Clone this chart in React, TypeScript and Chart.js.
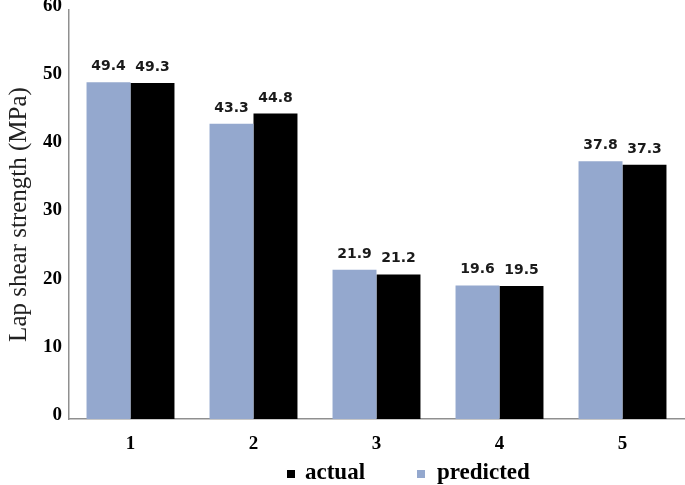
import React, { useEffect, useRef } from 'react';
import { Chart, registerables } from 'chart.js';

Chart.register(...registerables);

const categories = ['1', '2', '3', '4', '5'];
const predicted = [49.4, 43.3, 21.9, 19.6, 37.8];
const actual = [49.3, 44.8, 21.2, 19.5, 37.3];
const yTicks = [0, 10, 20, 30, 40, 50, 60];
const legendLabels = ['actual', 'predicted'];
const yTitle = 'Lap shear strength (MPa)';

const PRED_COLOR = '#94A8CE';
const ACT_COLOR = '#000000';

const valueLabels = {
  id: 'valueLabels',
  afterDatasetsDraw(chart: any) {
    const ctx = chart.ctx;
    ctx.save();
    ctx.font = 'bold 14px "DejaVu Sans"';
    ctx.fillStyle = '#1a1a1a';
    ctx.textAlign = 'center';
    ctx.textBaseline = 'alphabetic';
    chart.data.datasets.forEach((ds: any, i: number) => {
      const meta = chart.getDatasetMeta(i);
      meta.data.forEach((el: any, j: number) => {
        ctx.fillText(Number(ds.data[j]).toFixed(1), el.x, el.y - 12);
      });
    });
    ctx.restore();
  },
};

const bottomLegend = {
  id: 'bottomLegend',
  afterDraw(chart: any) {
    const ctx = chart.ctx;
    ctx.save();
    ctx.font = 'bold 23px "Liberation Serif"';
    ctx.textBaseline = 'alphabetic';
    ctx.textAlign = 'left';
    const items = [
      { label: legendLabels[0], color: ACT_COLOR, boxX: 287, textX: 305 },
      { label: legendLabels[1], color: PRED_COLOR, boxX: 417, textX: 437 },
    ];
    const baseline = 479;
    const box = 8;
    items.forEach((it) => {
      ctx.fillStyle = it.color;
      ctx.fillRect(it.boxX, baseline - 9, box, box);
      ctx.fillStyle = '#000';
      ctx.fillText(it.label, it.textX, baseline);
    });
    ctx.restore();
  },
};

export default function App() {
  const ref = useRef<HTMLCanvasElement>(null);
  useEffect(() => {
    document.body.style.margin = '0';
    const chart = new Chart(ref.current as HTMLCanvasElement, {
      type: 'bar',
      data: {
        labels: categories,
        datasets: [
          { label: legendLabels[1], data: predicted, backgroundColor: PRED_COLOR, borderWidth: 0 },
          { label: legendLabels[0], data: actual, backgroundColor: ACT_COLOR, borderWidth: 0 },
        ],
      },
      options: {
        responsive: false,
        animation: false,
        devicePixelRatio: 1,
        layout: { padding: { top: 10, right: 1, bottom: 0, left: 0 } },
        datasets: { bar: { categoryPercentage: 0.715, barPercentage: 1.0 } },
        plugins: {
          legend: { display: false },
          tooltip: { enabled: false },
        },
        scales: {
          x: {
            grid: { display: false, drawTicks: false },
            border: { display: true, color: '#8f8f8f', width: 1.5 },
            ticks: {
              color: '#000',
              padding: 14,
              font: { family: '"Liberation Serif"', size: 19, weight: 'bold' },
            },
            afterFit: (s: any) => {
              s.height = 66;
              s.paddingLeft = 0;
              s.paddingRight = 0;
            },
          },
          y: {
            min: 0,
            max: 60,
            grid: { display: false, drawTicks: false },
            border: { display: true, color: '#8f8f8f', width: 1.5 },
            afterBuildTicks: (s: any) => {
              s.ticks = yTicks.map((v) => ({ value: v }));
            },
            ticks: {
              color: '#000',
              padding: 7,
              labelOffset: -4,
              font: { family: '"Liberation Serif"', size: 19, weight: 'bold' },
            },
            title: {
              display: true,
              text: yTitle,
              color: '#222',
              padding: { top: 4, bottom: 0 },
              font: { family: '"Liberation Serif"', size: 25, weight: 'normal' },
            },
            afterFit: (s: any) => {
              s.width = 69;
              s.paddingTop = 0;
              s.paddingBottom = 0;
            },
          },
        },
      },
      plugins: [valueLabels, bottomLegend],
    } as any);
    return () => chart.destroy();
  }, []);
  return (
    <div style={{ width: 685, height: 485 }}>
      <canvas ref={ref} width={685} height={485} style={{ display: 'block' }} />
    </div>
  );
}
